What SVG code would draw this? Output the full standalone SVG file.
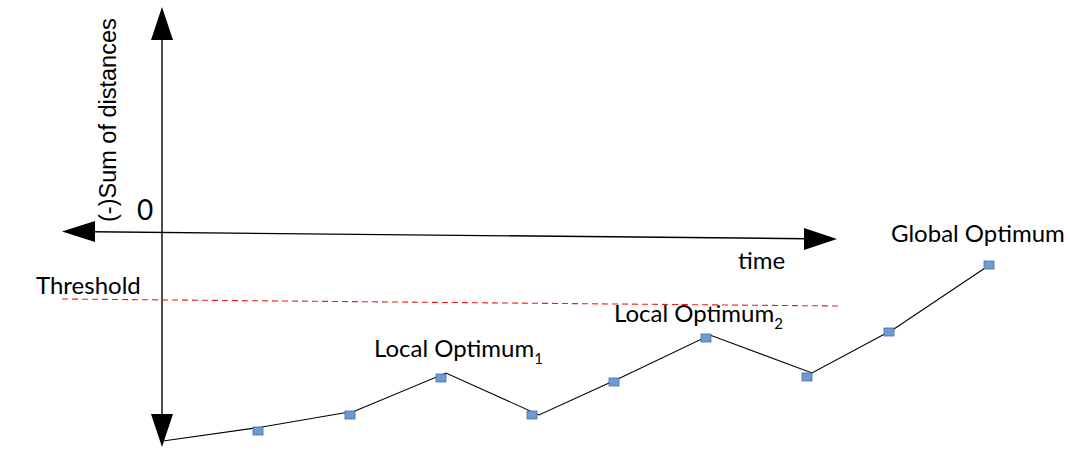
<svg xmlns="http://www.w3.org/2000/svg" width="1070" height="450" viewBox="0 0 1070 450">
<defs>
<style>
.axis{stroke:#000;stroke-width:1.4;fill:none}
.head{fill:#000;stroke:none}
.curve{stroke:#000;stroke-width:1.1;fill:none}
.pt{fill:#6f9bd1;stroke:#3f6ea8;stroke-width:0.8}
.lbl{font-family:Lato,"Liberation Sans",sans-serif;font-size:24px;fill:#000}
.sub{font-size:15px}
.thr{stroke:#ee1c1c;stroke-width:1.1;stroke-dasharray:6 4;fill:none}
</style>
</defs>
<rect width="1070" height="450" fill="#fff"/>
<g id="axes">
<line class="axis" x1="162" y1="38" x2="162" y2="416"/>
<polygon class="head" points="162,7 151,40 173,40"/>
<polygon class="head" points="162,447 151,414 173,414"/>
<line class="axis" x1="93" y1="231.8" x2="806" y2="238.7"/>
<polygon class="head" points="62,231.5 95,221 95,242"/>
<polygon class="head" points="837,239 804,228 804,250"/>
</g>
<g id="threshold-line">
<line class="thr" x1="62" y1="299" x2="838" y2="306"/>
</g>
<g id="connectors">
<polyline class="curve" points="163,441 262,427 355,411 446,373 539,415 620,378 710,335 812,373 894,329 994,262"/>
</g>
<g id="points">
<rect class="pt" x="253" y="427" width="10" height="8"/>
<rect class="pt" x="345" y="411" width="10" height="8"/>
<rect class="pt" x="436" y="374" width="10" height="8"/>
<rect class="pt" x="527" y="411" width="10" height="8"/>
<rect class="pt" x="609" y="378" width="10" height="8"/>
<rect class="pt" x="701" y="334" width="10" height="8"/>
<rect class="pt" x="802" y="373" width="10" height="8"/>
<rect class="pt" x="884" y="328" width="10" height="8"/>
<rect class="pt" x="984" y="261" width="10" height="8"/>
</g>
<g id="labels">
<text transform="translate(116,222) rotate(-90)" font-family="'Liberation Sans',Arial,sans-serif" font-size="23.5" fill="#000">(-)Sum of distances</text>
<text x="137" y="220" font-family="Lato,sans-serif" font-size="28" fill="#000">0</text>
<text class="lbl" x="36" y="294">Threshold</text>
<text class="lbl" x="738" y="269">time</text>
<text class="lbl" x="374" y="357">Local Optimum<tspan class="sub" dy="7">1</tspan></text>
<text class="lbl" x="614" y="322">Local Optimum<tspan class="sub" dy="7">2</tspan></text>
<text class="lbl" x="891" y="242">Global Optimum</text>
</g>
</svg>
